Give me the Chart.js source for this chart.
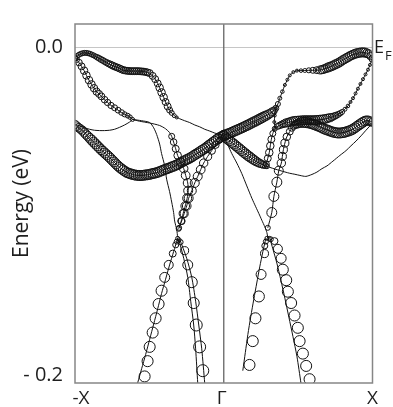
<!DOCTYPE html>
<html><head><meta charset="utf-8">
<script src="https://cdn.jsdelivr.net/npm/chart.js@4.4.1/dist/chart.umd.min.js"></script>
<style>html,body{margin:0;padding:0;background:#fff;}canvas{display:block;}</style>
</head><body>
<canvas id="c" width="393" height="407"></canvas>
<script>
// k: fraction of the path (-1 = -X, 0 = Γ, 1 = X); E in meV; W: fat-band weight (0..1)
const xTickValues = [-1, 0, 1];
const xTickLabels = ['-X', 'Γ', 'X'];
const yTickValues = [0, -0.2];
const yTickLabels = ['0.0', '- 0.2'];

const bandCL_K = [-1.0000,-0.9875,-0.9750,-0.9625,-0.9500,-0.9375,-0.9250,-0.9125,-0.9000,-0.8875,-0.8750,-0.8625,-0.8500,-0.8375,-0.8250,-0.8125,-0.8000,-0.7875,-0.7750,-0.7625,-0.7500,-0.7375,-0.7250,-0.7125,-0.7000,-0.6875,-0.6750,-0.6625,-0.6500,-0.6375,-0.6250,-0.6125,-0.6000,-0.5875,-0.5750,-0.5625,-0.5500,-0.5375,-0.5250,-0.5125,-0.5000,-0.4875,-0.4750,-0.4625,-0.4500,-0.4375,-0.4250,-0.4125,-0.4000,-0.3875,-0.3750,-0.3625,-0.3500,-0.3375,-0.3250,-0.3125,-0.3000,-0.2875,-0.2750,-0.2625,-0.2500,-0.2375,-0.2250,-0.2125,-0.2000,-0.1875,-0.1750,-0.1625,-0.1500,-0.1375,-0.1250,-0.1125,-0.1000,-0.0875,-0.0750,-0.0625,-0.0500,-0.0375,-0.0250,-0.0125,0.0000];
const bandCL_E = [-47.3,-48.3,-49.3,-50.1,-51.0,-52.2,-53.4,-54.5,-55.7,-56.8,-58.0,-59.1,-60.3,-61.4,-62.6,-63.6,-64.7,-65.7,-66.7,-67.8,-69.0,-70.1,-71.3,-72.4,-73.4,-74.3,-75.1,-75.9,-76.6,-77.0,-77.4,-77.7,-78.0,-78.2,-78.3,-78.4,-78.3,-78.2,-78.0,-77.9,-77.7,-77.4,-77.1,-76.9,-76.6,-76.2,-75.7,-75.3,-74.8,-74.4,-74.0,-73.6,-73.1,-72.7,-72.2,-71.7,-71.1,-70.5,-69.9,-69.3,-68.7,-68.2,-67.6,-66.9,-66.1,-65.4,-64.7,-64.0,-63.2,-62.5,-61.8,-60.9,-60.0,-59.2,-58.3,-57.5,-56.6,-55.9,-55.1,-54.5,-53.9];
const bandCL_W = [0.70,0.71,0.72,0.73,0.75,0.76,0.77,0.78,0.80,0.83,0.83,0.83,0.83,0.83,0.83,0.83,0.83,0.83,0.83,0.83,0.83,0.83,0.83,0.83,0.83,0.83,0.83,0.83,0.83,0.83,0.83,0.83,0.83,0.83,0.83,0.83,0.83,0.83,0.83,0.83,0.83,0.83,0.83,0.83,0.83,0.83,0.83,0.83,0.83,0.83,0.83,0.83,0.83,0.83,0.83,0.83,0.83,0.83,0.83,0.83,0.83,0.83,0.83,0.83,0.83,0.83,0.83,0.83,0.83,0.83,0.83,0.83,0.83,0.83,0.83,0.83,0.83,0.83,0.83,0.83,0.83];

const topL_K = [-1.0000,-0.9875,-0.9750,-0.9625,-0.9500,-0.9375,-0.9250,-0.9125,-0.9000,-0.8875,-0.8750,-0.8625,-0.8500,-0.8375,-0.8250,-0.8125,-0.8000,-0.7875,-0.7750,-0.7625,-0.7500,-0.7375,-0.7250,-0.7125,-0.7000,-0.6875,-0.6750,-0.6625,-0.6500,-0.6375,-0.6250,-0.6125,-0.6000,-0.5875,-0.5750,-0.5625,-0.5500,-0.5375,-0.5250,-0.5125,-0.498,-0.478,-0.461,-0.444,-0.431,-0.418,-0.404,-0.391,-0.377,-0.364,-0.350,-0.333,-0.316,-0.296,-0.263,-0.229,-0.195,-0.162,-0.128,-0.094,-0.061,-0.027,0.000];
const topL_E = [-7.0,-5.7,-4.9,-4.3,-3.9,-3.7,-3.7,-3.9,-4.2,-4.7,-5.2,-5.8,-6.4,-7.0,-7.7,-8.3,-9.0,-9.6,-10.2,-10.7,-11.3,-11.8,-12.3,-12.7,-13.2,-13.7,-14.2,-14.4,-14.6,-14.7,-14.8,-14.8,-14.8,-14.8,-14.8,-14.9,-15.0,-15.1,-15.3,-15.6,-16.0,-17.7,-19.7,-22.3,-24.9,-27.8,-30.7,-33.6,-36.3,-38.5,-40.2,-41.9,-43.0,-43.8,-45.0,-46.1,-47.6,-48.7,-50.2,-51.3,-52.5,-53.4,-53.9];
const topL_W = [0.42,0.42,0.42,0.42,0.42,0.42,0.42,0.42,0.42,0.42,0.42,0.42,0.47,0.48,0.50,0.50,0.50,0.52,0.53,0.56,0.58,0.58,0.58,0.58,0.58,0.58,0.58,0.58,0.58,0.58,0.58,0.58,0.58,0.58,0.58,0.58,0.58,0.58,0.58,0.58,0.58,0.58,0.58,0.58,0.63,0.63,0.63,0.58,0.58,0.50,0.42,0.33,0.25,0,0,0,0,0,0,0,0,0,0];

const secL_K = [-1.000,-0.990,-0.973,-0.956,-0.939,-0.923,-0.906,-0.889,-0.872,-0.855,-0.838,-0.822,-0.801,-0.781,-0.758,-0.734,-0.710,-0.687,-0.667,-0.646,-0.630,-0.613];
const secL_E = [-7.0,-7.8,-9.6,-11.9,-14.5,-17.4,-20.3,-22.9,-25.2,-27.3,-28.7,-30.2,-32.2,-33.9,-35.7,-37.1,-38.6,-40.0,-41.1,-41.9,-42.8,-44.2];
const secL_W = [0.45,0.50,0.55,0.58,0.62,0.63,0.63,0.63,0.62,0.60,0.58,0.57,0.55,0.53,0.52,0.50,0.48,0.47,0.43,0.40,0.37,0.33];

const t0_K = [-1.000,-0.970,-0.936,-0.902,-0.869,-0.835,-0.801,-0.768,-0.734,-0.700,-0.667,-0.633,-0.613];
const t0_E = [-47.3,-48.1,-49.3,-50.2,-50.8,-51.0,-51.0,-50.8,-50.2,-49.0,-47.6,-45.8,-44.2];
const t1_K = [-0.613,-0.552,-0.498,-0.471,-0.451,-0.431,-0.418,-0.397,-0.384,-0.364,-0.350,-0.337,-0.330,-0.316,-0.310];
const t1_E = [-44.2,-45.0,-46.1,-49.3,-53.4,-59.2,-65.0,-72.5,-80.6,-88.2,-94.5,-100.9,-106.1,-111.4,-116.0];
const t2_K = [-0.613,-0.566,-0.498,-0.431,-0.391,-0.364,-0.350];
const t2_E = [-44.2,-45.3,-46.4,-47.9,-49.9,-52.2,-54.5];

const l1_K = [-0.350,-0.337,-0.323,-0.310,-0.290,-0.269,-0.256,-0.242,-0.239,-0.246,-0.259,-0.273,-0.286,-0.303];
const l1_E = [-54.5,-58.0,-62.1,-66.1,-70.2,-74.2,-78.3,-82.9,-87.6,-92.2,-96.9,-101.5,-106.1,-110.8];
const l1_W = [0.50,0.55,0.58,0.63,0.67,0.70,0.73,0.75,0.75,0.75,0.72,0.67,0.58,0.42];
const l2_K = [0.000,-0.027,-0.054,-0.081,-0.108,-0.135,-0.155,-0.175,-0.195,-0.215,-0.236,-0.249,-0.266,-0.283,-0.300];
const l2_E = [-54.5,-56.8,-59.7,-63.2,-66.7,-70.8,-74.8,-78.9,-82.9,-87.6,-92.2,-96.9,-101.5,-106.1,-110.2];
const l2_W = [0.42,0.50,0.58,0.63,0.67,0.70,0.73,0.75,0.75,0.75,0.75,0.72,0.67,0.58,0.42];

const topR_K = [0.0000,0.0125,0.0250,0.0375,0.0500,0.0625,0.0750,0.0875,0.1000,0.1125,0.1250,0.1375,0.1500,0.1625,0.1750,0.1875,0.2000,0.2125,0.2250,0.2375,0.2500,0.2625,0.2750,0.2875,0.3000,0.3125,0.3250,0.3375,0.3500,0.364,0.377,0.394,0.411,0.428,0.444,0.468,0.492,0.519,0.545,0.572,0.599,0.626,0.6500,0.6625,0.6750,0.6875,0.7000,0.7125,0.7250,0.7375,0.7500,0.7625,0.7750,0.7875,0.8000,0.8125,0.8250,0.8375,0.8500,0.8625,0.8750,0.8875,0.9000,0.9125,0.9250,0.9375,0.9500,0.9625,0.9750,0.9875,1.0000];
const topR_E = [-53.9,-53.5,-53.1,-52.7,-52.2,-51.7,-51.2,-50.7,-50.2,-49.7,-49.2,-48.7,-48.1,-47.6,-47.0,-46.4,-45.8,-45.3,-44.7,-44.1,-43.5,-42.9,-42.3,-41.8,-41.2,-40.5,-39.7,-38.7,-37.4,-34.8,-31.3,-27.3,-23.2,-20.0,-17.4,-15.4,-14.5,-14.5,-14.4,-14.3,-14.3,-14.2,-14.1,-13.8,-13.5,-13.1,-12.6,-12.2,-11.8,-11.3,-10.7,-10.2,-9.6,-8.9,-8.1,-7.5,-6.8,-6.2,-5.5,-5.0,-4.5,-4.1,-3.8,-3.6,-3.4,-3.4,-3.5,-3.9,-4.4,-5.6,-7.3];
const topR_W = [0.83,0.83,0.83,0.83,0.83,0.83,0.83,0.83,0.83,0.83,0.83,0.83,0.83,0.83,0.83,0.83,0.83,0.83,0.83,0.83,0.83,0.82,0.80,0.78,0.75,0.71,0.67,0.58,0.50,0.42,0.33,0.30,0.25,0.25,0.25,0.25,0.25,0.30,0.33,0.42,0.50,0.58,0.67,0.68,0.70,0.72,0.75,0.75,0.75,0.75,0.75,0.75,0.75,0.75,0.75,0.75,0.75,0.75,0.75,0.75,0.75,0.75,0.75,0.75,0.75,0.75,0.75,0.72,0.70,0.64,0.58];

const link_K = [0.350,0.343,0.340,0.343];
const link_E = [-37.4,-41.8,-45.8,-49.9];
const link_W = [0.25,0.25,0.25,0.25];

const secR_K = [1.000,0.983,0.970,0.953,0.936,0.919,0.902,0.886,0.869,0.852,0.835,0.815,0.795,0.782,0.768,0.754,0.741,0.727,0.714,0.700,0.687,0.673,0.660,0.646,0.633,0.619,0.606,0.592,0.579,0.565,0.552,0.538,0.525,0.511,0.498,0.484,0.471,0.457,0.444,0.431,0.418,0.404,0.391,0.377,0.364,0.343,0.330,0.320,0.313,0.306,0.296,0.286];
const secR_E = [-7.3,-11.0,-13.9,-16.8,-19.7,-22.6,-25.5,-28.4,-31.3,-33.6,-36.0,-38.0,-39.7,-40.5,-41.2,-41.8,-42.3,-42.8,-43.2,-43.5,-43.8,-44.1,-44.3,-44.4,-44.5,-44.6,-44.7,-44.7,-44.7,-44.7,-44.7,-44.7,-44.8,-44.9,-45.0,-45.1,-45.2,-45.5,-45.8,-46.1,-46.4,-46.8,-47.3,-47.8,-48.4,-49.9,-52.8,-56.3,-60.3,-64.4,-67.9,-71.3];
const secR_W = [0.25,0.25,0.25,0.25,0.25,0.25,0.25,0.25,0.25,0.25,0.30,0.33,0.42,0.46,0.50,0.54,0.58,0.62,0.67,0.70,0.72,0.74,0.75,0.75,0.75,0.75,0.75,0.75,0.75,0.75,0.75,0.75,0.75,0.75,0.75,0.75,0.75,0.74,0.72,0.70,0.67,0.62,0.58,0.54,0.50,0.42,0.50,0.58,0.63,0.63,0.58,0.50];

const thrR_K = [1.000,0.988,0.976,0.962,0.949,0.936,0.923,0.910,0.896,0.882,0.869,0.856,0.842,0.828,0.815,0.802,0.788,0.774,0.761,0.748,0.734,0.720,0.707,0.694,0.680,0.666,0.653,0.640,0.626,0.612,0.599,0.586,0.572,0.558,0.545,0.532,0.519,0.505,0.492,0.481,0.471,0.458,0.444,0.424,0.411,0.401,0.394,0.387,0.370,0.357,0.337,0.323,0.296];
const thrR_E = [-46.0,-45.4,-45.0,-44.9,-45.2,-45.9,-46.7,-47.5,-48.4,-49.3,-50.1,-50.7,-51.2,-51.6,-52.0,-52.2,-52.4,-52.5,-52.4,-52.2,-51.9,-51.5,-51.0,-50.6,-50.2,-49.6,-49.0,-48.5,-48.0,-47.5,-47.1,-46.7,-46.4,-46.2,-46.0,-46.0,-46.1,-46.5,-47.0,-47.5,-48.1,-49.3,-51.6,-54.8,-58.6,-62.6,-66.7,-70.8,-75.4,-82.4,-91.1,-100.9,-110.2];
const thrR_W = [0.67,0.71,0.75,0.78,0.80,0.82,0.83,0.83,0.83,0.83,0.83,0.83,0.83,0.83,0.83,0.83,0.83,0.83,0.83,0.83,0.83,0.83,0.83,0.83,0.83,0.83,0.83,0.83,0.83,0.83,0.83,0.83,0.83,0.83,0.83,0.83,0.78,0.75,0.67,0.62,0.58,0.58,0.58,0.63,0.67,0.67,0.67,0.70,0.75,0.83,0.83,0.83,0.42];

const r2_K = [0.000,0.0135,0.027,0.0405,0.054,0.0675,0.081,0.0945,0.108,0.1215,0.135,0.1485,0.162,0.1755,0.189,0.202,0.215,0.2285,0.242,0.254,0.266,0.278,0.290,0.310,0.343,0.377,0.411,0.444,0.478,0.512,0.552,0.593,0.626,0.660,0.694,0.734,0.781,0.822,0.855,0.889,0.923,0.956,0.983,1.000];
const r2_E = [-54.5,-55.4,-56.3,-57.2,-58.2,-59.2,-60.2,-61.2,-62.2,-63.2,-64.3,-65.2,-66.2,-67.1,-68.0,-68.8,-69.6,-70.3,-70.9,-71.4,-71.9,-72.3,-72.7,-73.4,-74.4,-75.3,-76.2,-77.0,-77.6,-78.3,-78.9,-77.7,-76.3,-74.2,-72.5,-69.6,-66.1,-63.2,-60.3,-57.4,-54.2,-50.8,-48.1,-46.0];
const r2_W = [0.83,0.83,0.83,0.83,0.83,0.83,0.83,0.83,0.83,0.83,0.83,0.83,0.83,0.82,0.80,0.78,0.75,0.71,0.67,0.63,0.58,0.50,0.42,0,0,0,0,0,0,0,0,0,0,0,0,0,0,0,0,0,0,0,0,0];

const tr_K = [0.000,0.027,0.054,0.088,0.121,0.155,0.189,0.215,0.236,0.256,0.276,0.290,0.296];
const tr_E = [-55.1,-59.7,-65.0,-70.8,-77.1,-84.7,-92.2,-97.4,-101.5,-105.6,-109.6,-113.1,-116.0];

const vla_K = [-0.310,-0.316,-0.323,-0.343,-0.370,-0.397,-0.418,-0.438,-0.458,-0.478,-0.498,-0.512,-0.532];
const vla_E = [-116.6,-118.6,-120.6,-125.9,-132.8,-140.4,-148.5,-156.6,-165.3,-174.0,-182.7,-191.4,-200.7];
const vla_W = [0.33,0.42,0.50,0.58,0.75,0.83,0.92,0.92,0.92,0.92,0.92,0.92,0.92];
const vlaL_K = [-0.310,-0.337,-0.364,-0.391,-0.418,-0.444,-0.471,-0.498,-0.525,-0.552,-0.579];
const vlaL_E = [-116.6,-124.7,-132.8,-141.5,-150.2,-159.5,-168.8,-178.1,-187.3,-196.0,-204.7];

const vlb_K = [-0.300,-0.290,-0.263,-0.242,-0.215,-0.202,-0.185,-0.162,-0.141];
const vlb_E = [-117.5,-118.9,-124.1,-132.8,-143.3,-156.0,-169.4,-182.7,-197.2];
const vlb_W = [0.33,0.42,0.67,0.83,0.92,0.92,1.00,1.00,1.00];
const vlb1_K = [-0.303,-0.269,-0.242,-0.222,-0.202,-0.189,-0.175];
const vlb2_K = [-0.296,-0.249,-0.215,-0.189,-0.168,-0.148,-0.128];
const vlbL_E = [-117.2,-128.8,-140.4,-154.9,-169.4,-183.9,-204.7];

const vra_K = [0.290,0.283,0.276,0.274,0.251,0.236,0.213,0.195,0.173];
const vra_E = [-116.6,-118.6,-121.2,-125.9,-138.6,-152.0,-165.3,-179.2,-193.7];
const vra_W = [0.33,0.42,0.50,0.67,0.83,0.92,0.92,0.92,0.92];
const vraL_K = [0.283,0.263,0.242,0.222,0.202,0.182,0.162,0.145,0.128];
const vraL_E = [-116.6,-124.7,-134.0,-143.8,-153.7,-164.1,-175.2,-186.2,-197.2];

const vrb_K = [0.306,0.316,0.341,0.364,0.386,0.397,0.420,0.431,0.453,0.476,0.498,0.510,0.532,0.554,0.577];
const vrb_E = [-116.6,-117.2,-118.3,-123.0,-128.8,-135.7,-142.1,-149.1,-156.0,-163.6,-171.1,-179.2,-186.8,-194.3,-202.4];
const vrb_W = [0.33,0.42,0.58,0.75,0.83,0.92,0.92,0.92,0.92,0.92,0.92,0.92,0.92,0.92,0.92];
const vrbL_K = [0.310,0.330,0.357,0.384,0.411,0.438,0.465,0.492,0.519];
const vrbL_E = [-116.6,-123.0,-131.7,-142.1,-153.1,-164.7,-176.3,-188.5,-204.7];

// ---- styling / construction ----
const INK = '#111';
const R_MAX = 6;
const FONT = "'Open Sans', sans-serif";
Chart.defaults.font.family = FONT;

function pts(k, e) { return k.map((v, i) => ({ x: v, y: e[i] / 1000 })); }
function fat(k, e, w, line) {
  return { data: pts(k, e), showLine: line, borderColor: INK, borderWidth: 1, tension: 0.25,
    pointRadius: w.map(v => v * R_MAX), pointBorderWidth: 1, pointBorderColor: INK,
    pointBackgroundColor: 'rgba(255,255,255,0)', clip: 0 };
}
function thin(k, e) {
  return { data: pts(k, e), showLine: true, borderColor: INK, borderWidth: 1, tension: 0.25, pointRadius: 0, clip: 0 };
}

const datasets = [
  thin(t0_K, t0_E), thin(t1_K, t1_E), thin(t2_K, t2_E), thin(tr_K, tr_E),
  thin(vlaL_K, vlaL_E), thin(vlb1_K, vlbL_E), thin(vlb2_K, vlbL_E), thin(vraL_K, vraL_E), thin(vrbL_K, vrbL_E),
  fat(bandCL_K, bandCL_E, bandCL_W, true),
  fat(topL_K, topL_E, topL_W, true),
  fat(secL_K, secL_E, secL_W, true),
  fat(l1_K, l1_E, l1_W, true),
  fat(l2_K, l2_E, l2_W, true),
  fat(topR_K, topR_E, topR_W, true),
  fat(link_K, link_E, link_W, true),
  fat(secR_K, secR_E, secR_W, true),
  fat(thrR_K, thrR_E, thrR_W, true),
  fat(r2_K, r2_E, r2_W, true),
  fat(vla_K, vla_E, vla_W, false),
  fat(vlb_K, vlb_E, vlb_W, false),
  fat(vra_K, vra_E, vra_W, false),
  fat(vrb_K, vrb_E, vrb_W, false)
];

const decor = {
  id: 'decor',
  beforeDatasetsDraw(chart) {
    const { ctx, chartArea: a, scales: { x, y } } = chart;
    ctx.save();
    const yF = Math.round(y.getPixelForValue(0)) + 0.5;
    ctx.strokeStyle = '#c6c6c6'; ctx.lineWidth = 1;
    ctx.beginPath(); ctx.moveTo(a.left, yF); ctx.lineTo(a.right, yF); ctx.stroke();
    const xG = x.getPixelForValue(0);
    ctx.strokeStyle = '#707070'; ctx.lineWidth = 1.4;
    ctx.beginPath(); ctx.moveTo(xG, a.top); ctx.lineTo(xG, a.bottom); ctx.stroke();
    ctx.restore();
  },
  afterDatasetsDraw(chart) {
    const { ctx, chartArea: a, scales: { x, y } } = chart;
    ctx.save();
    ctx.strokeStyle = '#868686'; ctx.lineWidth = 1.5;
    ctx.strokeRect(a.left, a.top, a.right - a.left, a.bottom - a.top);
    ctx.fillStyle = '#1e1e1e';
    ctx.textBaseline = 'alphabetic';
    ctx.textAlign = 'center';
    ctx.font = '19px ' + FONT;
    const offs = [6, -2, 0];
    xTickValues.forEach((v, i) => ctx.fillText(xTickLabels[i], x.getPixelForValue(v) + offs[i], 404));
    const yF = y.getPixelForValue(0);
    ctx.textAlign = 'left';
    ctx.font = '18px ' + FONT;
    ctx.fillText('E', a.right + 1.5, yF + 6);
    ctx.font = '13px ' + FONT;
    ctx.fillText('F', a.right + 12.5, yF + 13);
    ctx.restore();
  }
};

new Chart(document.getElementById('c'), {
  type: 'scatter',
  data: { datasets },
  options: {
    responsive: false, animation: false, devicePixelRatio: 1, events: [],
    layout: { padding: { left: 0, right: 20.5, top: 9, bottom: 0 } },
    plugins: { legend: { display: false }, tooltip: { enabled: false } },
    scales: {
      x: { type: 'linear', min: -1, max: 1,
        grid: { display: false, drawTicks: false }, border: { display: false },
        ticks: { display: false },
        afterFit: s => { s.height = 21; } },
      y: { type: 'linear', min: -0.2047, max: 0.0139,
        grid: { display: false, drawTicks: false }, border: { display: false },
        afterBuildTicks: s => { s.ticks = yTickValues.map(v => ({ value: v })); },
        ticks: { callback: v => yTickLabels[yTickValues.indexOf(v)], font: { family: FONT, size: 20 }, color: '#1e1e1e', padding: 12 },
        title: { display: true, text: 'Energy (eV)', font: { family: FONT, size: 21 }, color: '#1e1e1e', padding: { top: 9, bottom: 0 } },
        afterFit: s => { s.width = 75; } }
    }
  },
  plugins: [decor]
});
</script>
</body></html>
